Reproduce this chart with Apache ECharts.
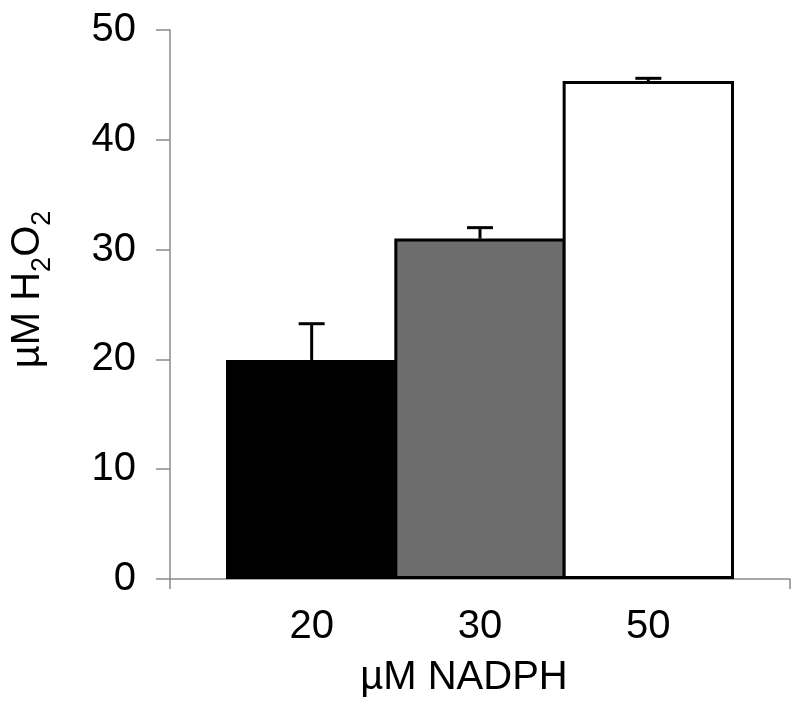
<!DOCTYPE html>
<html>
<head>
<meta charset="utf-8">
<script src="https://cdn.jsdelivr.net/npm/echarts@6/dist/echarts.min.js"></script>
<style>html,body{margin:0;padding:0;background:#fff;}#c{width:800px;height:708px;}</style>
</head>
<body>
<div id="c"></div>
<script>
var categories = ['20', '30', '50'];
var means = [19.95, 31.0, 45.35];
var upperErr = [23.25, 32.0, 45.6];
var barColors = ['#000000', '#6d6d6d', '#ffffff'];
var yTicks = [0, 10, 20, 30, 40, 50];

var FONT = 'Liberation Sans, Arial, sans-serif';
var chart = echarts.init(document.getElementById('c'), null, {renderer: 'canvas'});
var axisGray = '#8a8a8a';

var option = {
  backgroundColor: '#ffffff',
  animation: false,
  grid: [
    {left: 169, right: 10, top: 30, bottom: 129},
    {left: 227.5, right: 67.5, top: 30, bottom: 129}
  ],
  xAxis: [
    {
      type: 'value', gridIndex: 0, min: 0, max: 1, interval: 1,
      axisLine: {show: true, lineStyle: {color: axisGray, width: 1.5}},
      axisTick: {show: true, length: 10, lineStyle: {color: axisGray, width: 1.5}},
      axisLabel: {show: false},
      splitLine: {show: false}
    },
    {
      type: 'category', gridIndex: 1, data: categories,
      axisLine: {show: false},
      axisTick: {show: false},
      axisLabel: {show: true, margin: 28, fontSize: 40, color: '#000', fontFamily: FONT},
      name: 'µM NADPH',
      nameLocation: 'middle',
      nameGap: 79,
      nameTextStyle: {fontSize: 40, color: '#000', fontFamily: FONT, padding: [0, 32, 0, 0]}
    }
  ],
  yAxis: [
    {
      type: 'value', gridIndex: 0, min: yTicks[0], max: yTicks[yTicks.length - 1], interval: 10,
      axisLine: {show: true, lineStyle: {color: axisGray, width: 1.5}},
      axisTick: {show: true, length: 14, inside: false, lineStyle: {color: axisGray, width: 1.5}},
      axisLabel: {show: true, margin: 34, fontSize: 40, color: '#000', fontFamily: FONT},
      splitLine: {show: false},
      name: '{a|µM H}{s|2}{a|O}{s|2}',
      nameLocation: 'middle',
      nameRotate: 90,
      nameGap: 114,
      nameTextStyle: {
        color: '#000', fontFamily: FONT, padding: [0, 0, 0, 30],
        rich: {
          a: {fontSize: 40, lineHeight: 48, fontFamily: FONT, color: '#000', verticalAlign: 'top'},
          s: {fontSize: 27, lineHeight: 27, fontFamily: FONT, color: '#000', verticalAlign: 'bottom'}
        }
      }
    },
    {
      type: 'value', gridIndex: 1, min: 0, max: 50, interval: 10, show: false
    }
  ],
  series: [
    {
      type: 'bar', xAxisIndex: 1, yAxisIndex: 1,
      barWidth: '101.8%', barCategoryGap: 0,
      data: means.map(function (v, i) {
        return {value: v, itemStyle: {color: barColors[i], borderColor: '#000', borderWidth: 3}};
      }),
      z: 2
    },
    {
      type: 'custom', xAxisIndex: 1, yAxisIndex: 1, z: 3,
      data: means.map(function (v, i) { return [i, v, upperErr[i]]; }),
      renderItem: function (params, api) {
        var i = api.value(0);
        var p0 = api.coord([i, api.value(1)]);
        var p1 = api.coord([i, api.value(2)]);
        var hw = 13;
        var st = {stroke: '#000', lineWidth: 3};
        return {
          type: 'group',
          children: [
            {type: 'line', shape: {x1: p0[0], y1: p0[1], x2: p1[0], y2: p1[1]}, style: st},
            {type: 'line', shape: {x1: p1[0] - hw, y1: p1[1], x2: p1[0] + hw, y2: p1[1]}, style: st}
          ]
        };
      }
    }
  ]
};
chart.setOption(option);
</script>
</body>
</html>
